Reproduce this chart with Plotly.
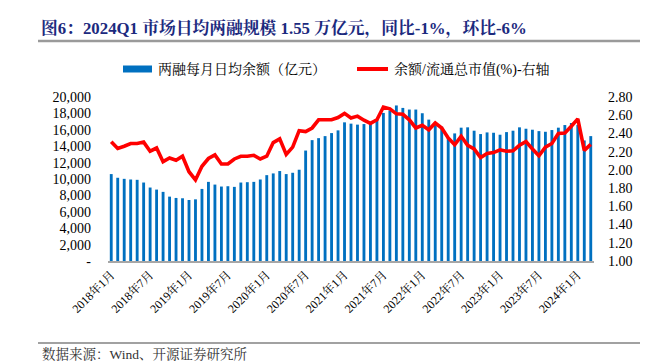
import plotly.graph_objects as go

# ---------------- data ----------------
months = [f"{y}年{m}月" for y in range(2018, 2025) for m in range(1, 13)][:75]

balance = [10600, 10150, 10020, 9940, 9900, 9570, 8960, 8710, 8430, 7850,
           7690, 7650, 7440, 7520, 8790, 9650, 9320, 9080, 9120, 9040,
           9570, 9610, 9650, 9940, 10470, 10680, 10970, 10600, 10760, 11130,
           13470, 14740, 14980, 15230, 15600, 15930, 16910, 16750, 16630, 16700,
           16750, 17320, 18060, 18350, 18970, 18670, 18470, 18470, 18020, 17240,
           16580, 16380, 14990, 15560, 16260, 16300, 15890, 15480, 15680, 15640,
           15400, 15720, 15890, 16300, 16130, 16010, 15840, 15760, 15970, 16260,
           16580, 16830, 16600, 14700, 15230]

ratio = [2.31, 2.235, 2.26, 2.29, 2.29, 2.305, 2.205, 2.24, 2.09, 2.13,
         2.105, 2.15, 1.98, 1.89, 2.04, 2.125, 2.165, 2.065, 2.065, 2.12,
         2.15, 2.15, 2.16, 2.12, 2.15, 2.30, 2.34, 2.17, 2.25, 2.43,
         2.42, 2.46, 2.55, 2.55, 2.55, 2.575, 2.62, 2.57, 2.59, 2.545,
         2.51, 2.55, 2.69, 2.67, 2.615, 2.61, 2.55, 2.46, 2.49, 2.44,
         2.515, 2.46, 2.35, 2.275, 2.37, 2.27, 2.23, 2.135, 2.18, 2.19,
         2.22, 2.205, 2.21, 2.27, 2.31, 2.23, 2.155, 2.25, 2.29, 2.40,
         2.405, 2.48, 2.56, 2.215, 2.28]

x_tick_labels = months[::6]
left_tickvals = [0, 2000, 4000, 6000, 8000, 10000, 12000, 14000, 16000, 18000, 20000]
left_ticktext = ["-", "2,000", "4,000", "6,000", "8,000", "10,000", "12,000",
                 "14,000", "16,000", "18,000", "20,000"]
right_tickvals = [1.0, 1.2, 1.4, 1.6, 1.8, 2.0, 2.2, 2.4, 2.6, 2.8]
right_ticktext = ["1.00", "1.20", "1.40", "1.60", "1.80", "2.00", "2.20", "2.40", "2.60", "2.80"]

bar_name = "两融每月日均余额（亿元）"
line_name = "余额/流通总市值(%)-右轴"
title_text = "图6：2024Q1 市场日均两融规模 1.55 万亿元，同比-1%，环比-6%"
source_text = "数据来源：Wind、开源证券研究所"

BLUE = "#0070C0"
RED = "#FF0000"
SERIF = "Times New Roman, Liberation Serif, Noto Serif CJK SC, Noto Sans CJK SC, serif"

# ---------------- geometry (pixels) ----------------
W, H = 651, 361
L, R, T, B = 100, 65, 89, 108
PW, PH = W - L - R, H - T - B


def px(x):
    return (x - L) / PW


def py(y):
    return (H - B - y) / PH


fig = go.Figure()
fig.add_trace(go.Bar(x=months, y=balance, name=bar_name, marker_color=BLUE,
                     marker_line_width=0, yaxis="y", showlegend=False))
fig.add_trace(go.Scatter(x=months, y=ratio, name=line_name, mode="lines",
                         line=dict(color=RED, width=3.6), yaxis="y2", showlegend=False))

fig.update_layout(
    template="none",
    width=W, height=H,
    margin=dict(l=L, r=R, t=T, b=B, autoexpand=False),
    paper_bgcolor="white", plot_bgcolor="white",
    bargap=0.56,
    font=dict(family=SERIF, color="#000000"),
    xaxis=dict(type="category", tickmode="array", tickvals=x_tick_labels,
               tickangle=-45, tickfont=dict(size=12, family=SERIF),
               showline=True, linecolor="#a6a6a6", linewidth=2,
               showgrid=False, ticks="", zeroline=False, automargin=False),
    yaxis=dict(range=[0, 20000], tickmode="array", tickvals=left_tickvals,
               ticktext=left_ticktext, tickfont=dict(size=14, family=SERIF),
               showgrid=False, zeroline=False, showline=False, ticks="",
               ticklabelstandoff=16, automargin=False),
    yaxis2=dict(range=[1.0, 2.8], overlaying="y", side="right", tickmode="array",
                tickvals=right_tickvals, ticktext=right_ticktext,
                tickfont=dict(size=14, family=SERIF),
                showgrid=False, zeroline=False, showline=False, ticks="",
                ticklabelstandoff=13, automargin=False),
)

shapes = []
annotations = []

# title + rule
annotations.append(dict(xref="paper", yref="paper", x=px(31), y=py(20),
                        xanchor="left", yanchor="middle", showarrow=False,
                        text="<b>" + title_text + "</b>",
                        font=dict(size=16.8, color="#1C2A7E", family=SERIF)))
shapes.append(dict(type="line", xref="paper", yref="paper",
                   x0=px(30), x1=px(632), y0=py(33), y1=py(33),
                   line=dict(color="#9a9a9a", width=2.5)))

# legend
shapes.append(dict(type="rect", xref="paper", yref="paper",
                   x0=px(115), x1=px(144), y0=py(57.5), y1=py(64.5),
                   fillcolor=BLUE, line=dict(width=0)))
annotations.append(dict(xref="paper", yref="paper", x=px(148), y=py(61),
                        xanchor="left", yanchor="middle", showarrow=False,
                        text=bar_name, font=dict(size=14, family=SERIF)))
shapes.append(dict(type="line", xref="paper", yref="paper",
                   x0=px(349), x1=px(380), y0=py(61), y1=py(61),
                   line=dict(color=RED, width=4)))
annotations.append(dict(xref="paper", yref="paper", x=px(384), y=py(61),
                        xanchor="left", yanchor="middle", showarrow=False,
                        text=line_name, font=dict(size=14, family=SERIF)))

# source + rule
shapes.append(dict(type="line", xref="paper", yref="paper",
                   x0=px(30), x1=px(632), y0=py(335), y1=py(335),
                   line=dict(color="#444444", width=1.2)))
annotations.append(dict(xref="paper", yref="paper", x=px(32), y=py(346),
                        xanchor="left", yanchor="middle", showarrow=False,
                        text=source_text, font=dict(size=13.5, color="#333333", family=SERIF)))

fig.update_layout(shapes=shapes, annotations=annotations)

fig.write_html("out.html")
